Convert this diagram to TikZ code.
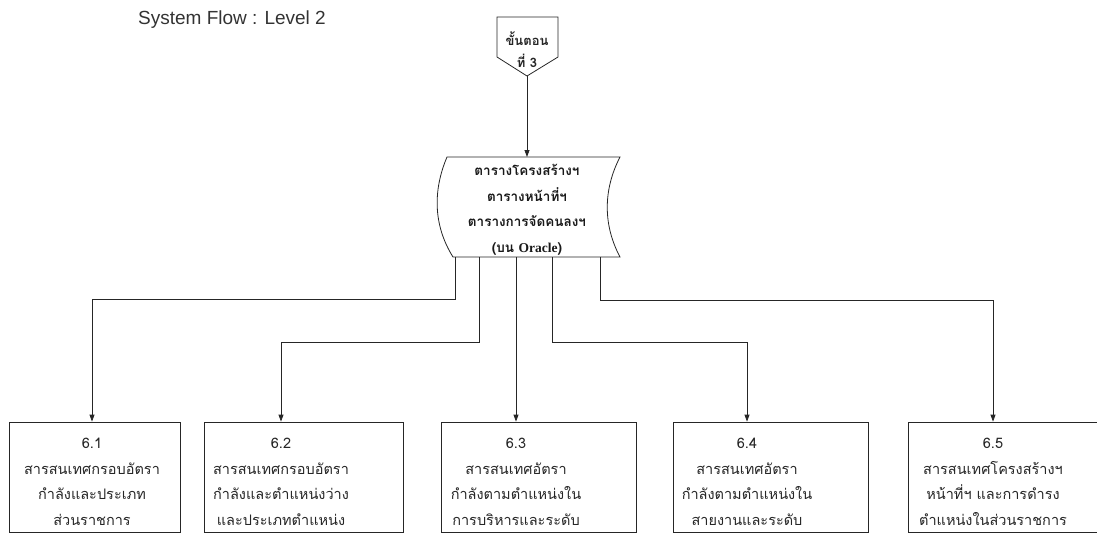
\documentclass[tikz,border=0pt]{standalone}
\usepackage{fontspec}
\setmainfont{Liberation Sans}
\newfontfamily\thaifont[Script=Thai]{Loma}
\newfontfamily\serifont{Liberation Serif}
\usetikzlibrary{arrows.meta}

\tikzset{
  flow/.style={line width=0.8pt, draw=black!85},
  arr/.style={flow, -{Triangle[length=7pt,width=5pt]}},
  procbox/.style={flow, rectangle, inner sep=0pt},
  boxtext/.style={align=center, inner sep=0pt, text=black!85,
    font=\thaifont\fontsize{14.5}{25.5}\selectfont},
  doctext/.style={align=center, inner sep=0pt, text=black!90,
    font=\thaifont\bfseries\fontsize{13.5}{25.5}\selectfont},
}

\begin{document}
\begin{tikzpicture}[x=1pt,y=-1pt]
\useasboundingbox (0,0) rectangle (1097,542);

% title
\node[anchor=west, inner sep=0pt, text=black!80, font=\fontsize{19}{21}\selectfont]
  (title) at (138,20) {System Flow : Level 2};

% off-page connector (step 3)
\draw[flow] (497,17) -- (558,17) -- (558,57) -- (527,76) -- (497,57) -- cycle;
\coordinate (steptip) at (527,76);
\node[align=center, inner sep=0pt, text=black!85,
  font=\thaifont\bfseries\fontsize{13}{22}\selectfont]
  (step) at (527,50) {ขั้นตอน\\ที่ 3};

% stored document (tables on Oracle)
\draw[flow] (447,157) -- (620,157)
  .. controls (603,190) and (603,225) .. (620,257)
  -- (453,257)
  .. controls (433,225) and (433,190) .. (447,157) -- cycle;
\coordinate (doctop) at (527,157);
\node[doctext] (doc) at (527,210)
  {ตารางโครงสร้างฯ\\ตารางหน้าที่ฯ\\ตารางการจัดคนลงฯ\\(บน {\serifont\bfseries Oracle})};

\draw[arr] (steptip) -- (doctop);

% outputs from the document
\coordinate (o1) at (455,257);
\coordinate (o2) at (479,257);
\coordinate (o3) at (516,257);
\coordinate (o4) at (552,257);
\coordinate (o5) at (600,257);

% report boxes
\node[procbox, minimum width=171pt, minimum height=110pt] (b1) at (94.5,477) {};
\node[procbox, minimum width=199pt, minimum height=110pt] (b2) at (303.5,477) {};
\node[procbox, minimum width=195pt, minimum height=110pt] (b3) at (538.5,477) {};
\node[procbox, minimum width=195pt, minimum height=110pt] (b4) at (770.5,477) {};
\node[procbox, minimum width=192pt, minimum height=110pt] (b5) at (1004,477) {};

\node[boxtext] (t1) at (92,482)
  {6.1\\สารสนเทศกรอบอัตรา\\กำลังและประเภท\\ส่วนราชการ};
\node[boxtext] (t2) at (281,482)
  {6.2\\สารสนเทศกรอบอัตรา\\กำลังและตำแหน่งว่าง\\และประเภทตำแหน่ง};
\node[boxtext] (t3) at (516,482)
  {6.3\\สารสนเทศอัตรา\\กำลังตามตำแหน่งใน\\การบริหารและระดับ};
\node[boxtext] (t4) at (747,482)
  {6.4\\สารสนเทศอัตรา\\กำลังตามตำแหน่งใน\\สายงานและระดับ};
\node[boxtext] (t5) at (993,482)
  {6.5\\สารสนเทศโครงสร้างฯ\\หน้าที่ฯ และการดำรง\\ตำแหน่งในส่วนราชการ};

% connectors
\draw[arr] (o1) |- (92,299) -- (b1.north -| t1);
\draw[arr] (o2) |- (281,342) -- (b2.north -| t2);
\draw[arr] (o3) -- (b3.north -| o3);
\draw[arr] (o4) |- (747,342) -- (b4.north -| t4);
\draw[arr] (o5) |- (993,300) -- (b5.north -| t5);
\end{tikzpicture}
\end{document}
